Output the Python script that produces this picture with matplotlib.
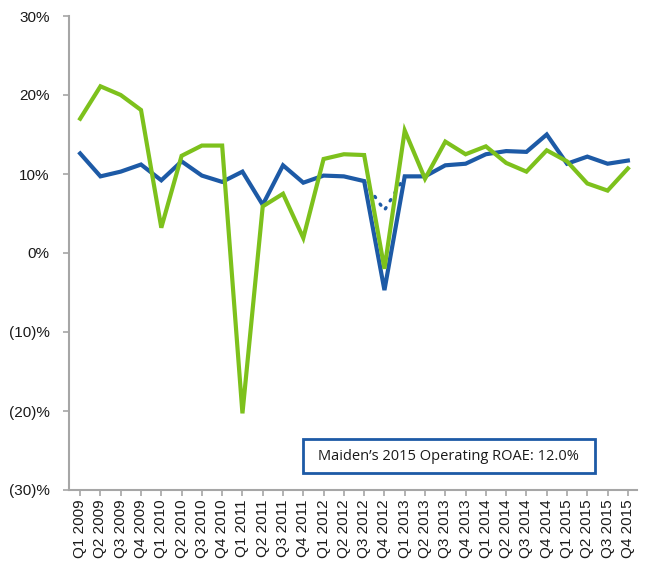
import matplotlib
matplotlib.use("Agg")
import matplotlib.pyplot as plt
import numpy as np
from matplotlib.patches import Rectangle

quarters = [f"Q{q} {y}" for y in range(2009, 2016) for q in range(1, 5)]

# Operating ROAE (%) - blue series
blue_roae = [12.6, 9.7, 10.3, 11.2, 9.2, 11.6, 9.8, 9.0, 10.3, 6.1, 11.1, 8.9, 9.8, 9.7,
             9.1, -4.7, 9.7, 9.7, 11.1, 11.3, 12.5, 12.9, 12.8, 15.0, 11.3, 12.2, 11.3, 11.7]
# dotted excursion around Q4 2012
blue_dotted = [np.nan] * 14 + [9.1, 5.4, 9.7] + [np.nan] * 11
# green series
green_roae = [17.0, 21.1, 20.0, 18.1, 3.2, 12.3, 13.6, 13.6, -20.3, 5.9, 7.5, 1.9, 11.9, 12.5,
              12.4, -2.0, 15.5, 9.4, 14.1, 12.5, 13.5, 11.4, 10.3, 13.0, 11.6, 8.8, 7.9, 10.7]

y_ticks = [30, 20, 10, 0, -10, -20, -30]
y_labels = ["30%", "20%", "10%", "0%", "(10)%", "(20)%", "(30)%"]
box_text = "Maiden\u2019s 2015 Operating ROAE: 12.0%"

BLUE = "#1d5aa6"
GREEN = "#7dc11c"
AXIS = "#a6a6a6"

plt.rcParams["font.family"] = ["Liberation Sans", "DejaVu Sans"]

fig = plt.figure(figsize=(6.47, 5.67), dpi=100)
ax = fig.add_axes([69 / 647, 1 - 490 / 567, 568 / 647, 474 / 567])

x = np.arange(len(quarters))
ax.plot(x, blue_dotted, color=BLUE, lw=2.4, linestyle=(0, (0.4, 2.4)),
        dash_capstyle="round")
ax.plot(x, blue_roae, color=BLUE, lw=3.0, solid_joinstyle="miter")
ax.plot(x, green_roae, color=GREEN, lw=3.0, solid_joinstyle="miter")

ax.set_xlim(-0.55, 27.45)
ax.set_ylim(-30, 30)
ax.set_yticks(y_ticks)
ax.set_yticklabels(y_labels, fontsize=11, color="#1a1a1a")
ax.set_xticks(x)
ax.set_xticklabels(quarters, rotation=90, fontsize=11, color="#1a1a1a")

for side in ("top", "right"):
    ax.spines[side].set_visible(False)
for side in ("left", "bottom"):
    ax.spines[side].set_color(AXIS)
    ax.spines[side].set_linewidth(1.5)
ax.tick_params(axis="both", color=AXIS, length=4, width=1.2, pad=3)
ax.tick_params(axis="y", pad=10)

# annotation box
fig.patches.append(Rectangle((303 / 647, 1 - 473 / 567), 292 / 647, 34 / 567,
                             transform=fig.transFigure, facecolor="white",
                             edgecolor=BLUE, linewidth=2))
fig.text(448 / 647, 1 - 456 / 567, box_text, ha="center", va="center",
         fontsize=10.5, family=["Open Sans", "DejaVu Sans"], color="#1a1a1a")

fig.savefig("out.png", dpi=100)
